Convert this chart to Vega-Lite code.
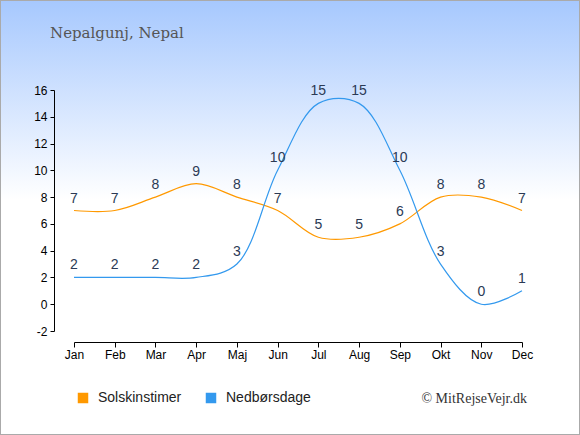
{
  "$schema": "https://vega.github.io/schema/vega-lite/v6.json",
  "width": 580,
  "height": 435,
  "autosize": "none",
  "padding": 0,
  "background": "white",
  "config": {"view": {"stroke": null}},
  "title": {
    "text": "Nepalgunj, Nepal",
    "anchor": "start",
    "frame": "group",
    "orient": "top",
    "offset": -54,
    "dx": 50,
    "baseline": "alphabetic",
    "font": "DejaVu Serif",
    "fontSize": 15,
    "fontWeight": "normal",
    "color": "#555555"
  },
  "datasets": {
    "climate": [
      {"month": "Jan", "series": "Solskinstimer", "value": 7},
      {"month": "Feb", "series": "Solskinstimer", "value": 7},
      {"month": "Mar", "series": "Solskinstimer", "value": 8},
      {"month": "Apr", "series": "Solskinstimer", "value": 9},
      {"month": "Maj", "series": "Solskinstimer", "value": 8},
      {"month": "Jun", "series": "Solskinstimer", "value": 7},
      {"month": "Jul", "series": "Solskinstimer", "value": 5},
      {"month": "Aug", "series": "Solskinstimer", "value": 5},
      {"month": "Sep", "series": "Solskinstimer", "value": 6},
      {"month": "Okt", "series": "Solskinstimer", "value": 8},
      {"month": "Nov", "series": "Solskinstimer", "value": 8},
      {"month": "Dec", "series": "Solskinstimer", "value": 7},
      {"month": "Jan", "series": "Nedbørsdage", "value": 2},
      {"month": "Feb", "series": "Nedbørsdage", "value": 2},
      {"month": "Mar", "series": "Nedbørsdage", "value": 2},
      {"month": "Apr", "series": "Nedbørsdage", "value": 2},
      {"month": "Maj", "series": "Nedbørsdage", "value": 3},
      {"month": "Jun", "series": "Nedbørsdage", "value": 10},
      {"month": "Jul", "series": "Nedbørsdage", "value": 15},
      {"month": "Aug", "series": "Nedbørsdage", "value": 15},
      {"month": "Sep", "series": "Nedbørsdage", "value": 10},
      {"month": "Okt", "series": "Nedbørsdage", "value": 3},
      {"month": "Nov", "series": "Nedbørsdage", "value": 0},
      {"month": "Dec", "series": "Nedbørsdage", "value": 1}
    ]
  },
  "layer": [
    {
      "data": {"values": [{}]},
      "mark": {
        "type": "rect",
        "stroke": "#aaaaaa",
        "strokeWidth": 2,
        "fill": {
          "x1": 0, "y1": 0, "x2": 0, "y2": 1,
          "gradient": "linear",
          "stops": [
            {"offset": 0, "color": "#a6c8fe"},
            {"offset": 0.46, "color": "#ffffff"},
            {"offset": 1, "color": "#ffffff"}
          ]
        }
      }
    },
    {
      "data": {"name": "climate"},
      "mark": {"type": "line", "interpolate": "catmull-rom", "strokeWidth": 1.2},
      "encoding": {
        "x": {
          "field": "month",
          "type": "ordinal",
          "sort": null,
          "scale": {"type": "point", "domain": ["Jan","Feb","Mar","Apr","Maj","Jun","Jul","Aug","Sep","Okt","Nov","Dec"], "range": [74, 522], "padding": 0},
          "axis": {
            "title": null,
            "orient": "bottom",
            "offset": -93,
            "zindex": 2,
            "domainColor": "#000000",
            "tickColor": "#000000",
            "tickSize": 5,
            "labelPadding": 2,
            "labelAngle": 0,
            "labelFont": "Liberation Sans",
            "labelFontSize": 12,
            "labelColor": "#000000",
            "grid": false
          }
        },
        "y": {
          "field": "value",
          "type": "quantitative",
          "scale": {"domain": [-2, 16], "range": [331, 90], "nice": false, "zero": false},
          "axis": {
            "title": null,
            "orient": "left",
            "offset": -54,
            "zindex": 2,
            "values": [-2, 0, 2, 4, 6, 8, 10, 12, 14, 16],
            "labelExpr": "'' + datum.value",
            "domainColor": "#000000",
            "tickColor": "#000000",
            "tickSize": 4,
            "labelPadding": 3,
            "labelFont": "Liberation Sans",
            "labelFontSize": 12,
            "labelColor": "#000000",
            "grid": false
          }
        },
        "color": {
          "field": "series",
          "type": "nominal",
          "scale": {"domain": ["Solskinstimer", "Nedbørsdage"], "range": ["#ff9900", "#3399ee"]},
          "legend": {
            "title": null,
            "orient": "none",
            "legendX": 76,
            "legendY": 391,
            "zindex": 2,
            "direction": "horizontal",
            "symbolType": "square",
            "symbolSize": 110,
            "symbolStrokeWidth": 0,
            "labelFont": "Liberation Sans",
            "labelFontSize": 14,
            "labelColor": "#222222",
            "labelOffset": 8,
            "columnPadding": 22,
            "encode": {"symbols": {"update": {"fill": {"scale": "color", "field": "value"}, "strokeWidth": {"value": 0}}}}
          }
        }
      }
    },
    {
      "data": {"name": "climate"},
      "mark": {"type": "text", "dy": -8, "baseline": "alphabetic", "font": "Liberation Sans", "fontSize": 14, "color": "#2b3a55"},
      "encoding": {
        "x": {"field": "month", "type": "ordinal", "sort": null},
        "y": {"field": "value", "type": "quantitative"},
        "text": {"field": "value", "type": "quantitative"}
      }
    },
    {
      "data": {"values": [{"label": "© MitRejseVejr.dk"}]},
      "mark": {"type": "text", "align": "right", "baseline": "middle", "dx": 5, "font": "Liberation Serif", "fontSize": 14, "color": "#333333"},
      "encoding": {
        "x": {"datum": "Dec"},
        "y": {"datum": -7.08},
        "text": {"field": "label"}
      }
    }
  ]
}
